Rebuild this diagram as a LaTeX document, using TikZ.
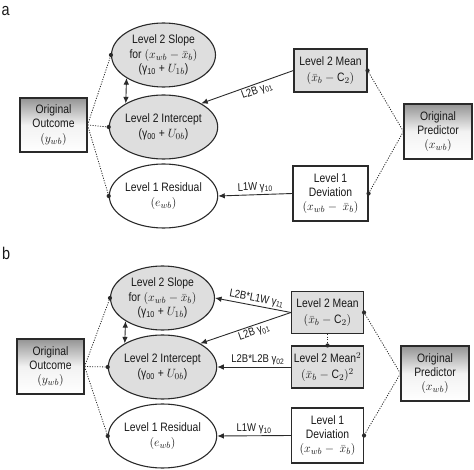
\documentclass[tikz,border=0pt]{standalone}
\usepackage{fontspec}
\setmainfont{Liberation Sans}[FakeStretch=0.85]
\usetikzlibrary{shapes.geometric,arrows.meta}
\definecolor{ln}{HTML}{2A2A2A}
\definecolor{fillg}{HTML}{DEDEDE}
\tikzset{
  every node/.style={font=\fontsize{12.2}{14.4}\selectfont, text=black!90},
  ell/.style={ellipse, draw=ln, line width=1.1pt, minimum width=104pt, minimum height=64pt, inner sep=0pt, align=center},
  gell/.style={ell, fill=fillg},
  box/.style={rectangle, draw=ln, line width=1.1pt, align=center, inner sep=0pt, fill=white},
  gbox/.style={box, fill=fillg},
  shbox/.style={rectangle, draw=ln, line width=1.1pt, align=center, inner sep=0pt, top color=black!42, bottom color=white, middle color=black!5},
  dotl/.style={draw=ln, line width=0.8pt, dash pattern=on 1.1pt off 1.4pt},
  arr/.style={draw=ln, line width=0.9pt, {Latex[length=6.5pt,width=5.5pt]}-},
  dbl/.style={draw=ln, line width=0.9pt, {Latex[length=6.5pt,width=5.5pt]}-{Latex[length=6.5pt,width=5.5pt]}},
  lab/.style={font=\fontsize{11.2}{12}\selectfont, sloped, inner sep=1.5pt},
  panel/.style={font=\fontsize{17}{17}\selectfont, anchor=base west, inner sep=0pt}
}
\newcommand{\dotat}[1]{\fill[ln] (#1) circle (2.1pt);}
\newcommand{\cc}{\mbox{C}}
\begin{document}
\begin{tikzpicture}[x=1pt,y=-1pt]
\useasboundingbox (0,0) rectangle (474,470);
% ---------- panel a ----------
\node[panel] (la) at (1.5,15.5) {a};
\node[gell] (slopeA) at (163.5,55) {Level 2 Slope\\for $(x_{wb}-\bar{x}_b)$\\(γ\textsubscript{10} + $U_{1b}$)};
\node[gell] (icptA) at (163.5,127) {Level 2 Intercept\\(γ\textsubscript{00} + $U_{0b}$)};
\node[ell] (resA) at (163.5,196) {Level 1 Residual\\$(e_{wb})$};
\node[shbox, minimum width=67pt, minimum height=54pt] (outA) at (53.5,125) {Original\\Outcome\\$(y_{wb})$};
\node[gbox, minimum width=73pt, minimum height=43pt] (meanA) at (330.5,70.5) {Level 2 Mean\\[1.5pt]$(\bar{x}_b-\cc_2)$};
\node[box, minimum width=75pt, minimum height=55pt] (devA) at (330.5,193.5) {Level 1\\Deviation\\$(x_{wb}-\ \bar{x}_b)$};
\node[shbox, minimum width=68pt, minimum height=55pt] (predA) at (438,131.5) {Original\\Predictor\\$(x_{wb})$};
\draw[dotl] (outA.east) -- (slopeA.west);
\draw[dotl] (outA.east) -- (icptA.west);
\draw[dotl] (outA.east) -- (resA.west);
\dotat{slopeA.west}\dotat{icptA.west}\dotat{resA.west}
\draw[dotl] (predA.west) -- (meanA.east);
\draw[dotl] (predA.west) -- (devA.east);
\dotat{meanA.east}\dotat{devA.east}
\draw[dbl] (slopeA.212) -- (icptA.148);
\draw[arr] (icptA.32) -- node[lab, below, pos=0.58] {L2B γ\textsubscript{01}} (meanA.west);
\draw[arr] (resA.east) -- node[lab, above, pos=0.5] {L1W γ\textsubscript{10}} (devA.west);
% ---------- panel b ----------
\node[panel] (lb) at (2,260) {b};
\node[gell] (slopeB) at (162.5,298) {Level 2 Slope\\for $(x_{wb}-\bar{x}_b)$\\(γ\textsubscript{10} + $U_{1b}$)};
\node[gell] (icptB) at (162.5,367) {Level 2 Intercept\\(γ\textsubscript{00} + $U_{0b}$)};
\node[ell] (resB) at (162.5,436) {Level 1 Residual\\$(e_{wb})$};
\node[shbox, minimum width=67pt, minimum height=55pt] (outB) at (50.5,366.5) {Original\\Outcome\\$(y_{wb})$};
\node[gbox, minimum width=72pt, minimum height=42pt] (meanB) at (327.5,312.5) {Level 2 Mean\\[1.5pt]$(\bar{x}_b-\cc_2)$};
\node[gbox, minimum width=72pt, minimum height=42pt] (sqB) at (327.5,367) {Level 2 Mean$^2$\\[1.5pt]$(\bar{x}_b-\cc_2)^2$};
\node[box, minimum width=72pt, minimum height=55pt] (devB) at (327.5,435.5) {Level 1\\Deviation\\$(x_{wb}-\ \bar{x}_b)$};
\node[shbox, minimum width=68pt, minimum height=55pt] (predB) at (435,373.5) {Original\\Predictor\\$(x_{wb})$};
\draw[dotl] (outB.east) -- (slopeB.west);
\draw[dotl] (outB.east) -- (icptB.west);
\draw[dotl] (outB.east) -- (resB.west);
\dotat{slopeB.west}\dotat{icptB.west}\dotat{resB.west}
\draw[dotl] (predB.west) -- (meanB.east);
\draw[dotl] (predB.west) -- (devB.east);
\dotat{meanB.east}\dotat{devB.east}
\draw[dotl] (meanB.south) -- (sqB.north);
\dotat{sqB.north}
\draw[dbl] (slopeB.212) -- (icptB.148);
\draw[arr] (slopeB.east) -- node[lab, above, pos=0.53] {L2B*L1W γ\textsubscript{11}} (meanB.west);
\draw[arr] (icptB.32) -- node[lab, below, pos=0.57] {L2B γ\textsubscript{01}} (meanB.west);
\draw[arr] (icptB.east) -- node[lab, above, pos=0.55] {L2B*L2B γ\textsubscript{02}} (sqB.west);
\draw[arr] (resB.east) -- node[lab, above, pos=0.5] {L1W γ\textsubscript{10}} (devB.west);
\end{tikzpicture}
\end{document}
